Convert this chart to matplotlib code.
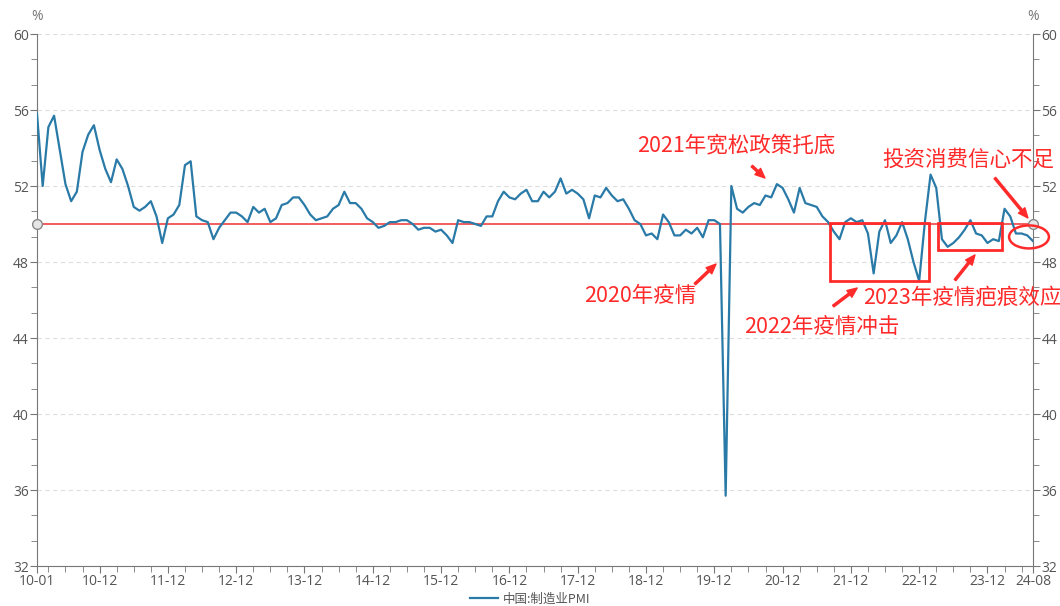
import matplotlib
matplotlib.use("Agg")
import matplotlib.pyplot as plt
from matplotlib.patches import Rectangle, Ellipse
import numpy as np

plt.rcParams['font.family'] = ['Noto Sans CJK SC', 'DejaVu Sans']

# 中国制造业PMI, 2010-01 ~ 2024-08 (月度)
pmi_2010 = [55.8, 52.0, 55.1, 55.7, 53.9, 52.1, 51.2, 51.7, 53.8, 54.7, 55.2, 53.9]
pmi_2011 = [52.9, 52.2, 53.4, 52.9, 52.0, 50.9, 50.7, 50.9, 51.2, 50.4, 49.0, 50.3]
pmi_2012 = [50.5, 51.0, 53.1, 53.3, 50.4, 50.2, 50.1, 49.2, 49.8, 50.2, 50.6, 50.6]
pmi_2013 = [50.4, 50.1, 50.9, 50.6, 50.8, 50.1, 50.3, 51.0, 51.1, 51.4, 51.4, 51.0]
pmi_2014 = [50.5, 50.2, 50.3, 50.4, 50.8, 51.0, 51.7, 51.1, 51.1, 50.8, 50.3, 50.1]
pmi_2015 = [49.8, 49.9, 50.1, 50.1, 50.2, 50.2, 50.0, 49.7, 49.8, 49.8, 49.6, 49.7]
pmi_2016 = [49.4, 49.0, 50.2, 50.1, 50.1, 50.0, 49.9, 50.4, 50.4, 51.2, 51.7, 51.4]
pmi_2017 = [51.3, 51.6, 51.8, 51.2, 51.2, 51.7, 51.4, 51.7, 52.4, 51.6, 51.8, 51.6]
pmi_2018 = [51.3, 50.3, 51.5, 51.4, 51.9, 51.5, 51.2, 51.3, 50.8, 50.2, 50.0, 49.4]
pmi_2019 = [49.5, 49.2, 50.5, 50.1, 49.4, 49.4, 49.7, 49.5, 49.8, 49.3, 50.2, 50.2]
pmi_2020 = [50.0, 35.7, 52.0, 50.8, 50.6, 50.9, 51.1, 51.0, 51.5, 51.4, 52.1, 51.9]
pmi_2021 = [51.3, 50.6, 51.9, 51.1, 51.0, 50.9, 50.4, 50.1, 49.6, 49.2, 50.1, 50.3]
pmi_2022 = [50.1, 50.2, 49.5, 47.4, 49.6, 50.2, 49.0, 49.4, 50.1, 49.2, 48.0, 47.0]
pmi_2023 = [50.1, 52.6, 51.9, 49.2, 48.8, 49.0, 49.3, 49.7, 50.2, 49.5, 49.4, 49.0]
pmi_2024 = [49.2, 49.1, 50.8, 50.4, 49.5, 49.5, 49.4, 49.1]

pmi = np.array(pmi_2010 + pmi_2011 + pmi_2012 + pmi_2013 + pmi_2014 + pmi_2015 + pmi_2016
               + pmi_2017 + pmi_2018 + pmi_2019 + pmi_2020 + pmi_2021 + pmi_2022 + pmi_2023 + pmi_2024)
months = np.arange(len(pmi))

tick_labels = ['10-01', '10-12', '11-12', '12-12', '13-12', '14-12', '15-12', '16-12',
               '17-12', '18-12', '19-12', '20-12', '21-12', '22-12', '23-12', '24-08']
tick_pos = [0] + [11 + 12 * k for k in range(14)] + [len(pmi) - 1]
baseline = 50

red = '#ff2a2a'
blue = '#2a7aa8'
grey = '#555555'

fig = plt.figure(figsize=(10.6, 6.06), dpi=100)
ax = fig.add_axes([37 / 1060, 40 / 606, 996 / 1060, 532 / 606])
ax.set_xlim(0, len(pmi) - 1)
ax.set_ylim(32, 60)

ax.plot(months, pmi, color=blue, lw=1.6, label='中国:制造业PMI', zorder=3)
ax.plot([0, len(pmi) - 1], [baseline, baseline], color='#f05050', lw=1.3, zorder=2)
ax.plot([0, len(pmi) - 1], [baseline, baseline], ls='none', marker='o', ms=7,
        mfc='#e6e6e6', mec='#888888', mew=1, zorder=5, clip_on=False)

# axes styling
ax.set_yticks(np.arange(32, 61, 4))
ax.set_yticks(np.arange(32, 60.01, 4 / 3), minor=True)
ax.set_xticks(tick_pos)
ax.set_xticklabels(tick_labels)
ax.set_xticks(list(range(2, len(pmi), 3)), minor=True)
ax.grid(axis='y', which='major', color='#dddddd', ls=(0, (4, 3)), lw=0.8)
ax.set_axisbelow(True)
ax.spines['top'].set_visible(False)
for s in ['left', 'right', 'bottom']:
    ax.spines[s].set_color('#777777')
ax.tick_params(axis='both', which='both', colors='#777777', labelcolor=grey, labelsize=10)
ax.tick_params(axis='y', which='major', length=5, right=True, labelright=True, pad=1)
ax.tick_params(axis='y', which='minor', length=4, right=True)
ax.tick_params(axis='x', which='major', length=5, pad=1)
ax.tick_params(axis='x', which='minor', length=4)
for lbl in ax.get_xticklabels() + ax.get_yticklabels() + ax.get_yticklabels(which='major'):
    lbl.set_family(['Open Sans', 'DejaVu Sans'])
for lbl in ax.yaxis.get_ticklabels(which='major'):
    lbl.set_family(['Open Sans', 'DejaVu Sans'])
for t in ax.yaxis.get_major_ticks():
    t.label2.set_family(['Open Sans', 'DejaVu Sans'])

fig.text(37 / 1060, 1 - 17 / 606, '%', ha='center', va='center', color='#777777', fontsize=10,
         family=['Open Sans', 'DejaVu Sans'])
fig.text(1033 / 1060, 1 - 17 / 606, '%', ha='center', va='center', color='#777777', fontsize=10,
         family=['Open Sans', 'DejaVu Sans'])

leg = fig.legend(loc='center', bbox_to_anchor=(530 / 1060, 1 - 599 / 606), frameon=False,
                 fontsize=9, handlelength=2.2, handletextpad=0.4)
for t in leg.get_texts():
    t.set_color(grey)

# annotations
fs = 15.5
ax.text(122.8, 54.16, '2021年宽松政策托底', color=red, fontsize=fs, ha='center', va='center')
ax.text(163.6, 53.37, '投资消费信心不足', color=red, fontsize=fs, ha='center', va='center')
ax.text(106.0, 46.21, '2020年疫情', color=red, fontsize=fs, ha='center', va='center')
ax.text(137.9, 44.58, '2022年疫情冲击', color=red, fontsize=fs, ha='center', va='center')
ax.text(162.5, 46.10, '2023年疫情疤痕效应', color=red, fontsize=fs, ha='center', va='center',
        clip_on=False)

arrows = [((125.6, 53.05), (127.9, 52.42)),
          ((168.3, 52.42), (174.1, 50.32)),
          ((115.6, 46.84), (119.3, 47.89)),
          ((139.9, 45.68), (144.1, 46.63)),
          ((161.3, 47.05), (164.8, 48.37))]
for tail, head in arrows:
    ax.annotate('', xy=head, xytext=tail,
                arrowprops=dict(arrowstyle='simple,head_length=0.7,head_width=0.6,tail_width=0.15',
                                color=red, shrinkA=0, shrinkB=0), zorder=6)

ax.add_patch(Rectangle((139.3, 47.0), 17.4, 3.05, fill=False, ec=red, lw=2, zorder=6))
ax.add_patch(Rectangle((158.3, 48.63), 11.3, 1.42, fill=False, ec=red, lw=2, zorder=6))
ax.add_patch(Ellipse((174.3, 49.32), 7.0, 1.21, fill=False, ec=red, lw=1.8, zorder=6,
                     clip_on=False))

fig.savefig('out.png', dpi=100)
